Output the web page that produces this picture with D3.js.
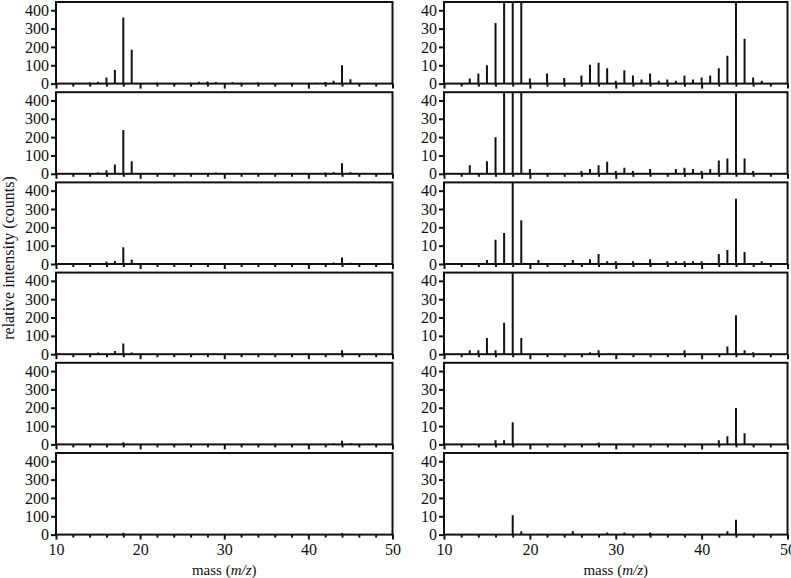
<!DOCTYPE html>
<html><head><meta charset="utf-8">
<script src="https://cdn.jsdelivr.net/npm/d3@7"></script>
<style>body{margin:0;background:#fff}svg{display:block}</style>
</head><body>
<script>
// masses m/z 11..49
const masses = [11,12,13,14,15,16,17,18,19,20,21,22,23,24,25,26,27,28,29,30,31,32,33,34,35,36,37,38,39,40,41,42,43,44,45,46,47,48,49];
// intensities (counts), one spectrum per row
const spectrum1 = [0,0,2.8,5.5,10,33,74,360,185,2.8,0,5.5,0,3,0,4.4,10.3,11.4,8.4,1.5,7.3,4.4,2.2,5.5,1.5,2.2,1.5,4.4,2.2,3.3,4.4,8.4,15.2,100,24.4,3.3,1.5,0,0];
const spectrum2 = [0,0,4.7,0,6.9,20,51,239,68,2.6,0,0,0,0,0,1.5,2.6,4.6,6.6,1.5,3.3,1.5,0,2.6,0,0,2.6,3.3,2.6,1.5,2.6,7.3,8.4,58,8.4,1.5,0,0,0];
const spectrum3 = [0,0,0,0,2.2,13.2,16.9,92,23.9,0,2.2,0,0,0,2.2,0,2.6,5.5,1.5,1.5,0,1.5,0,2.6,0,1.5,1.5,1.5,1.5,1.5,0,5.5,7.7,35.6,6.6,0,1.5,0,0];
const spectrum4 = [0,0,2.2,2.2,8.8,2.2,17.2,59,8.8,0,0,0,0,0,0,0,1.1,2.2,0,0,0,0,0,0,0,0,0,2.2,0,0,0,0,4.2,21.3,2.2,1.1,0,0,0];
const spectrum5 = [0,0,0,0,0,2.2,2.2,12.1,0,0,0,0,0,0,0,0,0,1.1,0,0,0,0,0,0,0,0,0,0,0,0,0,2.2,4.4,19.8,6.1,0,0,0,0];
const spectrum6 = [0,0,0,0,0,0,0,10.6,1.8,0,0,0,0,0,1.8,0,0,0,1.1,0,1.1,0,0,1.1,0,0,0,0,0,0,0,0,1.8,8.1,0,0,0,0,0];
const spectra = [spectrum1, spectrum2, spectrum3, spectrum4, spectrum5, spectrum6];

const xTickLabels = [10,20,30,40,50];
const xMinorTicks = [12,14,16,18,22,24,26,28,32,34,36,38,42,44,46,48];
const leftYTicks = [0,100,200,300,400];
const rightYTicks = [0,10,20,30,40];

const W = 791, H = 578;
const svg = d3.select("body").append("svg").attr("width", W).attr("height", H);
const font = "'Liberation Serif','DejaVu Serif','Times New Roman',serif";

const cols = [
  {x0: 56, x1: 392.5, ymax: 445, ticks: leftYTicks},
  {x0: 444, x1: 787.5, ymax: 44.5, ticks: rightYTicks}
];
const rowTop = i => 2 + i * 90.2;
const rowH = 81.6;

cols.forEach((c, ci) => {
  const x = d3.scaleLinear().domain([10, 50]).range([c.x0, c.x1]);
  spectra.forEach((spec, ri) => {
    const top = rowTop(ri), bot = top + rowH;
    const y = d3.scaleLinear().domain([0, c.ymax]).range([bot, top]);
    const g = svg.append("g");
    const clipId = `clip-${ci}-${ri}`;
    g.append("clipPath").attr("id", clipId).append("rect")
      .attr("x", c.x0).attr("y", top).attr("width", c.x1 - c.x0).attr("height", rowH);
    // bars
    g.append("g").attr("clip-path", `url(#${clipId})`)
      .selectAll("line").data(masses.map((m, k) => ({m, v: spec[k]})).filter(d => d.v > 0))
      .join("line")
      .attr("x1", d => x(d.m)).attr("x2", d => x(d.m))
      .attr("y1", y(0)).attr("y2", d => y(d.v))
      .attr("stroke", "#111").attr("stroke-width", 2);
    // y axis
    const ya = d3.axisLeft(y).tickValues(c.ticks).tickSize(5).tickPadding(2);
    const yg = g.append("g").attr("transform", `translate(${c.x0},0)`).call(ya);
    yg.select(".domain").remove();
    yg.selectAll(".tick line").attr("stroke", "#111").attr("stroke-width", 2);
    yg.selectAll("text").attr("font-family", font).attr("font-size", 16).attr("fill", "#111");
    // x axis major
    const xa = d3.axisBottom(x).tickValues(xTickLabels).tickSize(5).tickPadding(4)
      .tickFormat(ri === 5 ? d3.format("d") : () => "");
    const xg = g.append("g").attr("transform", `translate(0,${bot})`).call(xa);
    xg.select(".domain").remove();
    xg.selectAll(".tick line").attr("stroke", "#111").attr("stroke-width", 2);
    xg.selectAll("text").attr("font-family", font).attr("font-size", 16).attr("fill", "#111");
    // x minor ticks
    const xm = d3.axisBottom(x).tickValues(xMinorTicks).tickSize(3).tickFormat(() => "");
    const xmg = g.append("g").attr("transform", `translate(0,${bot})`).call(xm);
    xmg.select(".domain").remove();
    xmg.selectAll(".tick line").attr("stroke", "#111").attr("stroke-width", 2);
    // frame
    g.append("rect").attr("x", c.x0).attr("y", top).attr("width", c.x1 - c.x0).attr("height", rowH)
      .attr("fill", "none").attr("stroke", "#111").attr("stroke-width", 2);
  });
  // x title
  const t = svg.append("text").attr("x", (c.x0 + c.x1) / 2).attr("y", 575)
    .attr("text-anchor", "middle").attr("font-family", font).attr("font-size", 15).attr("fill", "#111");
  t.append("tspan").text("mass (");
  t.append("tspan").attr("font-style", "italic").text("m/z");
  t.append("tspan").text(")");
});

svg.append("text").attr("transform", "translate(14,258) rotate(-90)")
  .attr("text-anchor", "middle").attr("font-family", font).attr("font-size", 16).attr("fill", "#111")
  .text("relative intensity (counts)");
</script>
</body></html>
